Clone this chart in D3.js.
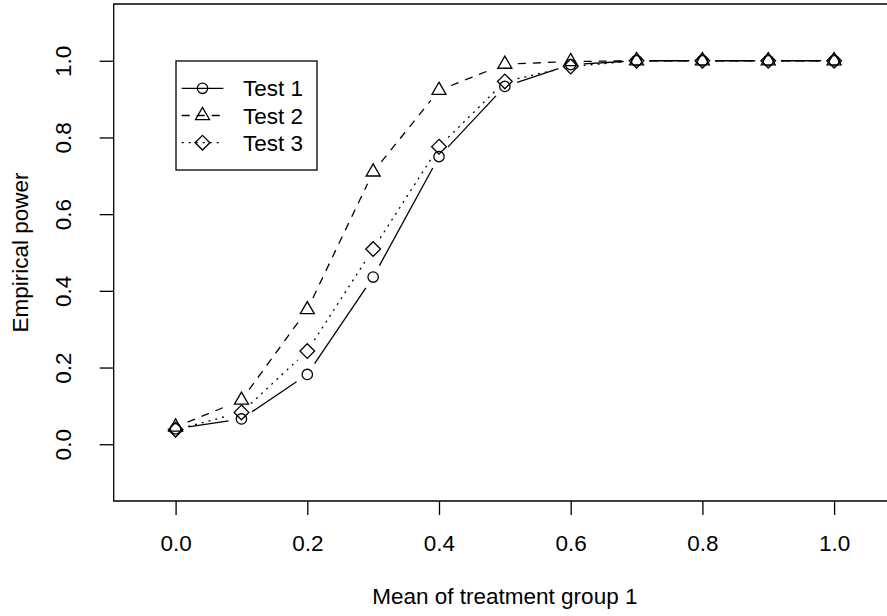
<!DOCTYPE html>
<html>
<head>
<meta charset="utf-8">
<script src="https://cdn.jsdelivr.net/npm/d3@7"></script>
<style>
  body { margin: 0; background: #fff; }
  svg { display: block; }
  text { font-family: "Liberation Sans", Arial, sans-serif; fill: #000; }
</style>
</head>
<body>
<svg width="887" height="616"></svg>
<script>
var svg = d3.select("svg"),
	width = +svg.attr("width"),
	height = +svg.attr("height");

// data
var means = [0.0, 0.1, 0.2, 0.3, 0.4, 0.5, 0.6, 0.7, 0.8, 0.9, 1.0];
var test1 = [0.040, 0.066, 0.182, 0.436, 0.750, 0.933, 0.990, 1.000, 1.000, 1.000, 1.000];
var test2 = [0.045, 0.115, 0.351, 0.710, 0.923, 0.991, 0.998, 1.000, 1.000, 1.000, 1.000];
var test3 = [0.038, 0.083, 0.243, 0.509, 0.776, 0.946, 0.985, 1.000, 1.000, 1.000, 1.000];
var seriesNames = ["Test 1", "Test 2", "Test 3"];
var xTicks = [0.0, 0.2, 0.4, 0.6, 0.8, 1.0];
var yTicks = [0.0, 0.2, 0.4, 0.6, 0.8, 1.0];

var series = [
	{ name: seriesNames[0], values: test1, shape: "circle", dash: null },
	{ name: seriesNames[1], values: test2, shape: "triangle", dash: "8,7" },
	{ name: seriesNames[2], values: test3, shape: "diamond", dash: "2,5" }
];

// plot region (R style: xlim c(-0.05,1.05), ylim c(-0.1,1.1), 4% padding)
var plotL = 113.7, plotR = 896, plotT = 4, plotB = 501;
var x = d3.scaleLinear().domain([-0.05 - 0.044, 1.05 + 0.044]).range([plotL, plotR]);
var y = d3.scaleLinear().domain([-0.1 - 0.048, 1.1 + 0.048]).range([plotB, plotT]);

var fontSize = 22.5, lw = 1.3, r = 5.2, gap = 13;

// box
svg.append("path")
	.attr("d", "M" + (plotR + 5) + "," + plotT + "H" + plotL + "V" + plotB + "H" + (plotR + 5))
	.attr("fill", "none")
	.attr("stroke", "#000")
	.attr("stroke-width", lw);

// x axis
var xAxis = svg.append("g")
	.attr("transform", "translate(0," + plotB + ")")
	.call(d3.axisBottom(x).tickValues(xTicks).tickSize(14)
		.tickFormat(d3.format(".1f")));
xAxis.select(".domain").remove();
xAxis.selectAll("line").attr("stroke-width", lw);
xAxis.selectAll("text")
	.attr("font-size", fontSize)
	.attr("font-family", "Liberation Sans, Arial, sans-serif")
	.attr("fill", "#000")
	.attr("dy", null)
	.attr("y", 50);

// y axis, labels rotated like R's las=0
var yAxis = svg.append("g")
	.attr("transform", "translate(" + plotL + ",0)")
	.call(d3.axisLeft(y).tickValues(yTicks).tickSize(14).tickFormat(d3.format(".1f")));
yAxis.select(".domain").remove();
yAxis.selectAll("line").attr("stroke-width", lw);
yAxis.selectAll("text")
	.attr("font-size", fontSize)
	.attr("font-family", "Liberation Sans, Arial, sans-serif")
	.attr("fill", "#000")
	.attr("x", null)
	.attr("dy", null)
	.attr("text-anchor", "middle")
	.attr("transform", "translate(" + (71 - plotL) + ",0) rotate(-90)");

// axis titles
svg.append("text")
	.attr("x", (plotL + plotR) / 2)
	.attr("y", 604)
	.attr("text-anchor", "middle")
	.attr("font-size", fontSize)
	.text("Mean of treatment group 1");

svg.append("text")
	.attr("transform", "translate(28," + ((plotT + plotB) / 2) + ") rotate(-90)")
	.attr("text-anchor", "middle")
	.attr("font-size", fontSize)
	.text("Empirical power");

function markerPath(shape, cx, cy) {
	if (shape === "circle") {
		return "M" + (cx + r) + "," + cy + "A" + r + "," + r + " 0 1,1 " + (cx - r) + "," + cy +
			"A" + r + "," + r + " 0 1,1 " + (cx + r) + "," + cy + "Z";
	}
	if (shape === "triangle") {
		var h = 1.5551 * r, w = 1.3468 * r, b = 0.7776 * r;
		return "M" + cx + "," + (cy - h) + "L" + (cx + w) + "," + (cy + b) + "L" + (cx - w) + "," + (cy + b) + "Z";
	}
	var d = r * Math.SQRT2;
	return "M" + cx + "," + (cy - d) + "L" + (cx + d) + "," + cy + "L" + cx + "," + (cy + d) + "L" + (cx - d) + "," + cy + "Z";
}

// lines with gaps at the points (type = "b")
series.forEach(function (s) {
	var g = svg.append("g");
	var pts = means.map(function (m, i) { return [x(m), y(s.values[i])]; });
	for (var i = 0; i < pts.length - 1; i++) {
		var p0 = pts[i], p1 = pts[i + 1];
		var dx = p1[0] - p0[0], dy = p1[1] - p0[1];
		var len = Math.sqrt(dx * dx + dy * dy);
		if (len <= 2 * gap) continue;
		var ux = dx / len, uy = dy / len;
		g.append("line")
			.attr("x1", p0[0] + ux * gap).attr("y1", p0[1] + uy * gap)
			.attr("x2", p1[0] - ux * gap).attr("y2", p1[1] - uy * gap)
			.attr("stroke", "#000")
			.attr("stroke-width", lw)
			.attr("stroke-dasharray", s.dash);
	}
	g.selectAll("path")
		.data(pts)
		.enter().append("path")
		.attr("d", function (d) { return markerPath(s.shape, d[0], d[1]); })
		.attr("fill", "none")
		.attr("stroke", "#000")
		.attr("stroke-width", lw);
});

// legend
var legend = svg.append("g");
legend.append("rect")
	.attr("x", 176).attr("y", 61)
	.attr("width", 141).attr("height", 109)
	.attr("fill", "#fff")
	.attr("stroke", "#000")
	.attr("stroke-width", lw);

series.forEach(function (s, i) {
	var ly = 88.3 + i * 27.2;
	legend.append("line")
		.attr("x1", 181.7).attr("x2", 223.3)
		.attr("y1", ly).attr("y2", ly)
		.attr("stroke", "#000")
		.attr("stroke-width", lw)
		.attr("stroke-dasharray", s.dash);
	legend.append("path")
		.attr("d", markerPath(s.shape, 202.5, ly))
		.attr("fill", "none")
		.attr("stroke", "#000")
		.attr("stroke-width", lw);
	legend.append("text")
		.attr("x", 243)
		.attr("y", ly + 8)
		.attr("font-size", fontSize)
		.text(s.name);
});
</script>
</body>
</html>
